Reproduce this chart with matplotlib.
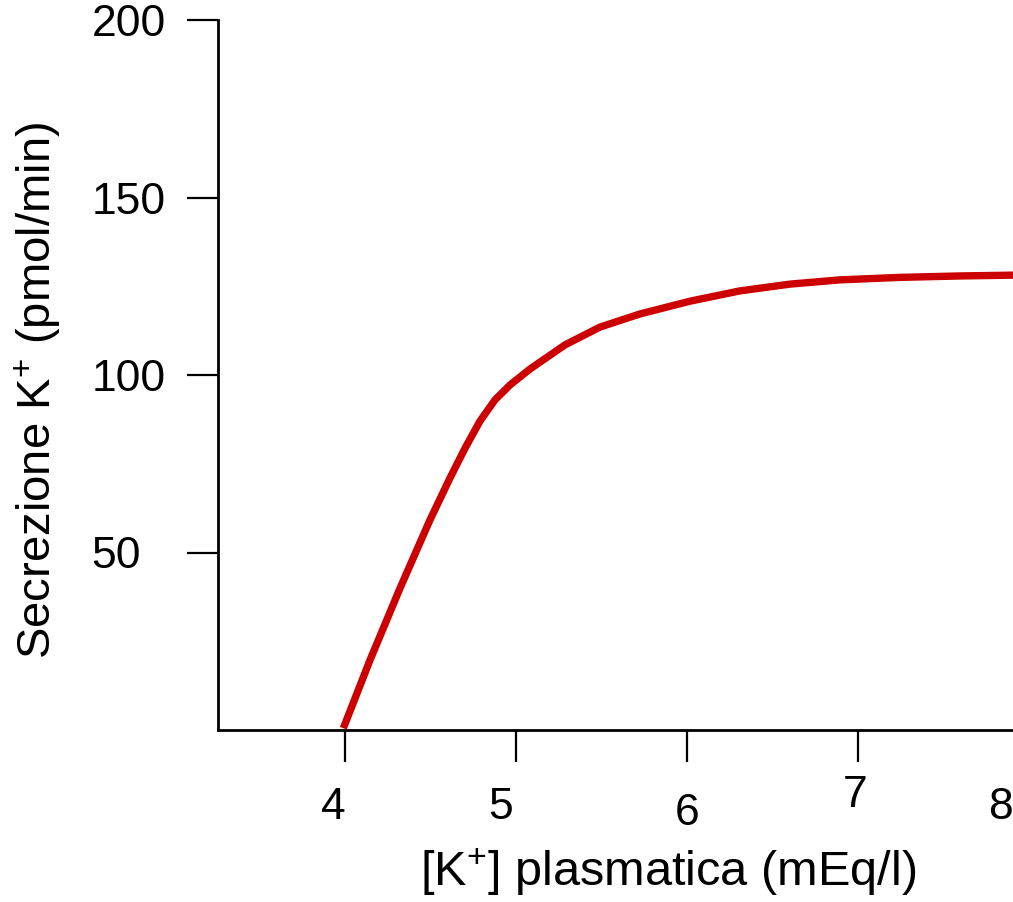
import matplotlib
matplotlib.use("Agg")
import matplotlib.pyplot as plt
import matplotlib.transforms as mtransforms

plt.rcParams['font.family'] = ['Liberation Sans', 'DejaVu Sans']
plt.rcParams['mathtext.fontset'] = 'custom'
plt.rcParams['mathtext.rm'] = 'Liberation Sans'
plt.rcParams['mathtext.default'] = 'regular'

# data
k_plasma = [3.99, 4.146, 4.322, 4.497, 4.614, 4.702, 4.789, 4.877, 4.965, 5.082,
            5.287, 5.491, 5.725, 6.018, 6.310, 6.602, 6.895, 7.246, 7.596, 8.0]
k_secretion = [0.5, 19.7, 40.0, 59.2, 71.0, 79.4, 87.0, 93.0, 97.2, 101.7,
               108.5, 113.5, 117.2, 120.8, 123.7, 125.6, 126.8, 127.5, 127.9, 128.2]

x_ticks = [4, 5, 6, 7, 8]
x_tick_labels = ['4', '5', '6', '7', '8']
y_ticks = [50, 100, 150, 200]
y_tick_labels = ['50', '100', '150', '200']

W, H = 1013, 902
fig = plt.figure(figsize=(W / 100, H / 100), dpi=100)
# axes box in pixels: left 218, right 1029 (past the edge), top 20, bottom 730
ax = fig.add_axes([218 / W, 1 - 730 / H, (1029 - 218) / W, (730 - 20) / H])

ax.plot(k_plasma, k_secretion, color='#cc0000', lw=5.3, solid_capstyle='butt',
        solid_joinstyle='round')

ax.set_xlim(3.257, 8)
ax.set_ylim(0, 200)

for side in ['top', 'right']:
    ax.spines[side].set_visible(False)
for side in ['left', 'bottom']:
    ax.spines[side].set_linewidth(2)

ax.set_xticks(x_ticks)
ax.set_xticklabels(x_tick_labels)
ax.set_yticks(y_ticks)
ax.set_yticklabels(y_tick_labels)

ax.tick_params(axis='x', length=23, width=1.6, pad=18, labelsize=32)
ax.tick_params(axis='y', length=22, width=1.6, pad=69, labelsize=32)
for lab in ax.get_yticklabels():
    lab.set_horizontalalignment('left')

# hand-drawn jitter of the x tick labels (pixels)
x_label_shift = [(-12, 0), (-15, 0), (0, -6), (-3, 12), (-29, 0)]
for lab, (dx, dy) in zip(ax.get_xticklabels(), x_label_shift):
    off = mtransforms.ScaledTranslation(dx / 100, dy / 100, fig.dpi_scale_trans)
    lab.set_transform(lab.get_transform() + off)

ax.set_xlabel('[K$^{+}$] plasmatica (mEq/l)', fontsize=35)
ax.xaxis.set_label_coords((668 - 218) / 811, (730 - 872) / 710)
ax.xaxis.label.set_va('center')

ax.set_ylabel('Secrezione K$^{+}$ (pmol/min)', fontsize=34)
ax.yaxis.set_label_coords((38 - 218) / 811, (730 - 390) / 710)
ax.yaxis.label.set_va('center')

fig.savefig('out.png', dpi=100)
